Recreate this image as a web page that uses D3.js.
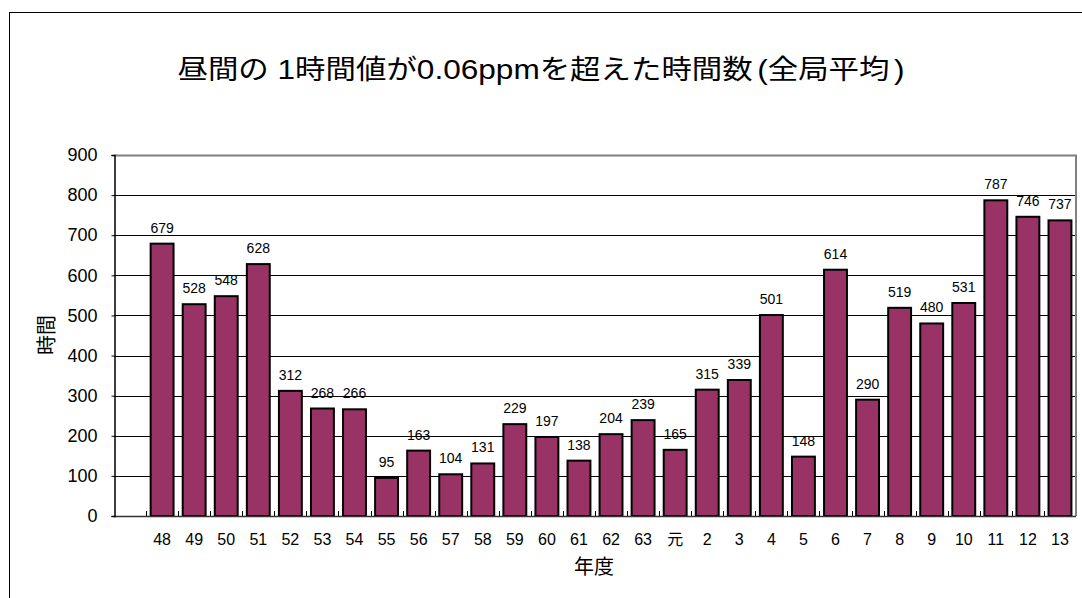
<!DOCTYPE html>
<html>
<head>
<meta charset="utf-8">
<script src="https://cdn.jsdelivr.net/npm/d3@7"></script>
<style>
  html, body { margin: 0; padding: 0; background: #fff; }
  svg { display: block; }
</style>
</head>
<body>
<svg id="chart" width="1082" height="598"></svg>
<script>
const titleParts = [
  ["昼間の", "cjk"], [" 1", "latin"], ["時間値が", "cjk"], ["0.06ppm", "latin"],
  ["を超えた時間数", "cjk"], ["(", "latin"], ["全局平均", "cjk"], [")", "latin"]
];
const yTitle = "時間";
const xTitle = "年度";
const categories = ["48","49","50","51","52","53","54","55","56","57","58","59","60","61","62","63","元","2","3","4","5","6","7","8","9","10","11","12","13"];
const values = [679,528,548,628,312,268,266,95,163,104,131,229,197,138,204,239,165,315,339,501,148,614,290,519,480,531,787,746,737];
const yTicks = [0,100,200,300,400,500,600,700,800,900];

const svg = d3.select("#chart");
const L = 114, R = 1076, T = 155, B = 516;
const latin = "'Liberation Sans', Arial, sans-serif";
const cjk = "'Noto Sans CJK JP', sans-serif";

// outer border
svg.append("rect").attr("x", 9.5).attr("y", 12.5).attr("width", 1100).attr("height", 620)
  .attr("fill", "none").attr("stroke", "#000").attr("stroke-width", 1);

// title
const t = svg.append("text").attr("x", 541).attr("y", 79).attr("text-anchor", "middle")
  .attr("font-size", 27).attr("fill", "#000").attr("xml:space", "preserve");
t.selectAll("tspan").data(titleParts).join("tspan")
  .attr("font-family", d => d[1] === "cjk" ? cjk : latin)
  .attr("font-size", d => d[1] === "cjk" ? 27 : 28)
  .style("white-space", "pre")
  .attr("dx", d => d[0] === "(" || d[0] === ")" ? 4 : 0)
  .text(d => d[0]);
t.attr("textLength", 727).attr("lengthAdjust", "spacingAndGlyphs");

// scales: a blank leading slot precedes the first category
const x = d3.scaleBand().domain(["", ...categories]).range([L, R]).padding(0);
const y = d3.scaleLinear().domain([0, 900]).range([B, T]);

// gridlines
svg.append("g").selectAll("line").data(yTicks.filter(v => v > 0 && v < 900)).join("line")
  .attr("x1", L).attr("x2", R)
  .attr("y1", d => Math.round(y(d)) + 0.5).attr("y2", d => Math.round(y(d)) + 0.5)
  .attr("stroke", "#000").attr("stroke-width", 1);

// plot top & right border (gray)
svg.append("path")
  .attr("d", `M${L},${Math.round(T)+0.5}H${R}V${B}`)
  .attr("fill", "none").attr("stroke", "#808080").attr("stroke-width", 2);

// bars
const bw = x.bandwidth();
const barW = bw / 1.4;
svg.append("g").selectAll("rect").data(values).join("rect")
  .attr("x", (d, i) => x(categories[i]) + (bw - barW) / 2)
  .attr("y", d => y(d))
  .attr("width", barW)
  .attr("height", d => B - y(d))
  .attr("fill", "#993366").attr("stroke", "#000").attr("stroke-width", 2);

// data labels
svg.append("g").selectAll("text").data(values).join("text")
  .attr("x", (d, i) => x(categories[i]) + bw / 2)
  .attr("y", d => y(d) - 11)
  .attr("text-anchor", "middle").attr("font-family", latin).attr("font-size", 14)
  .attr("fill", "#000").text(d => d);

// x baseline
svg.append("line").attr("x1", L).attr("x2", R).attr("y1", B + 0.5).attr("y2", B + 0.5)
  .attr("stroke", "#333").attr("stroke-width", 1.5);

// x inside ticks at band boundaries
svg.append("g").selectAll("line").data(categories).join("line")
  .attr("x1", d => Math.round(x(d)) + 0.5).attr("x2", d => Math.round(x(d)) + 0.5)
  .attr("y1", B).attr("y2", B - 5)
  .attr("stroke", "#000").attr("stroke-width", 1);

// x axis labels
const xAxis = svg.append("g").attr("transform", `translate(0,${B})`)
  .call(d3.axisBottom(x).tickValues(categories).tickSize(0).tickPadding(18));
xAxis.select(".domain").remove();
xAxis.selectAll("text").attr("font-family", d => d === "元" ? cjk : latin)
  .attr("font-size", 16).attr("fill", "#000");

// y axis
const yAxis = svg.append("g").attr("transform", `translate(${L + 0.5},0)`)
  .call(d3.axisLeft(y).tickValues(yTicks).tickSize(3).tickPadding(14));
yAxis.select(".domain").attr("stroke", "#000").attr("stroke-width", 1.5);
yAxis.selectAll(".tick line").attr("stroke", "#000");
yAxis.selectAll("text").attr("font-family", latin).attr("font-size", 18).attr("fill", "#000");

// axis titles
svg.append("text").attr("x", 594).attr("y", 574).attr("text-anchor", "middle")
  .attr("font-family", cjk).attr("font-size", 20).attr("fill", "#000").text(xTitle);
svg.append("text").attr("transform", "translate(54,335) rotate(-90)").attr("text-anchor", "middle")
  .attr("font-family", cjk).attr("font-size", 20).attr("fill", "#000").text(yTitle);
</script>
</body>
</html>
